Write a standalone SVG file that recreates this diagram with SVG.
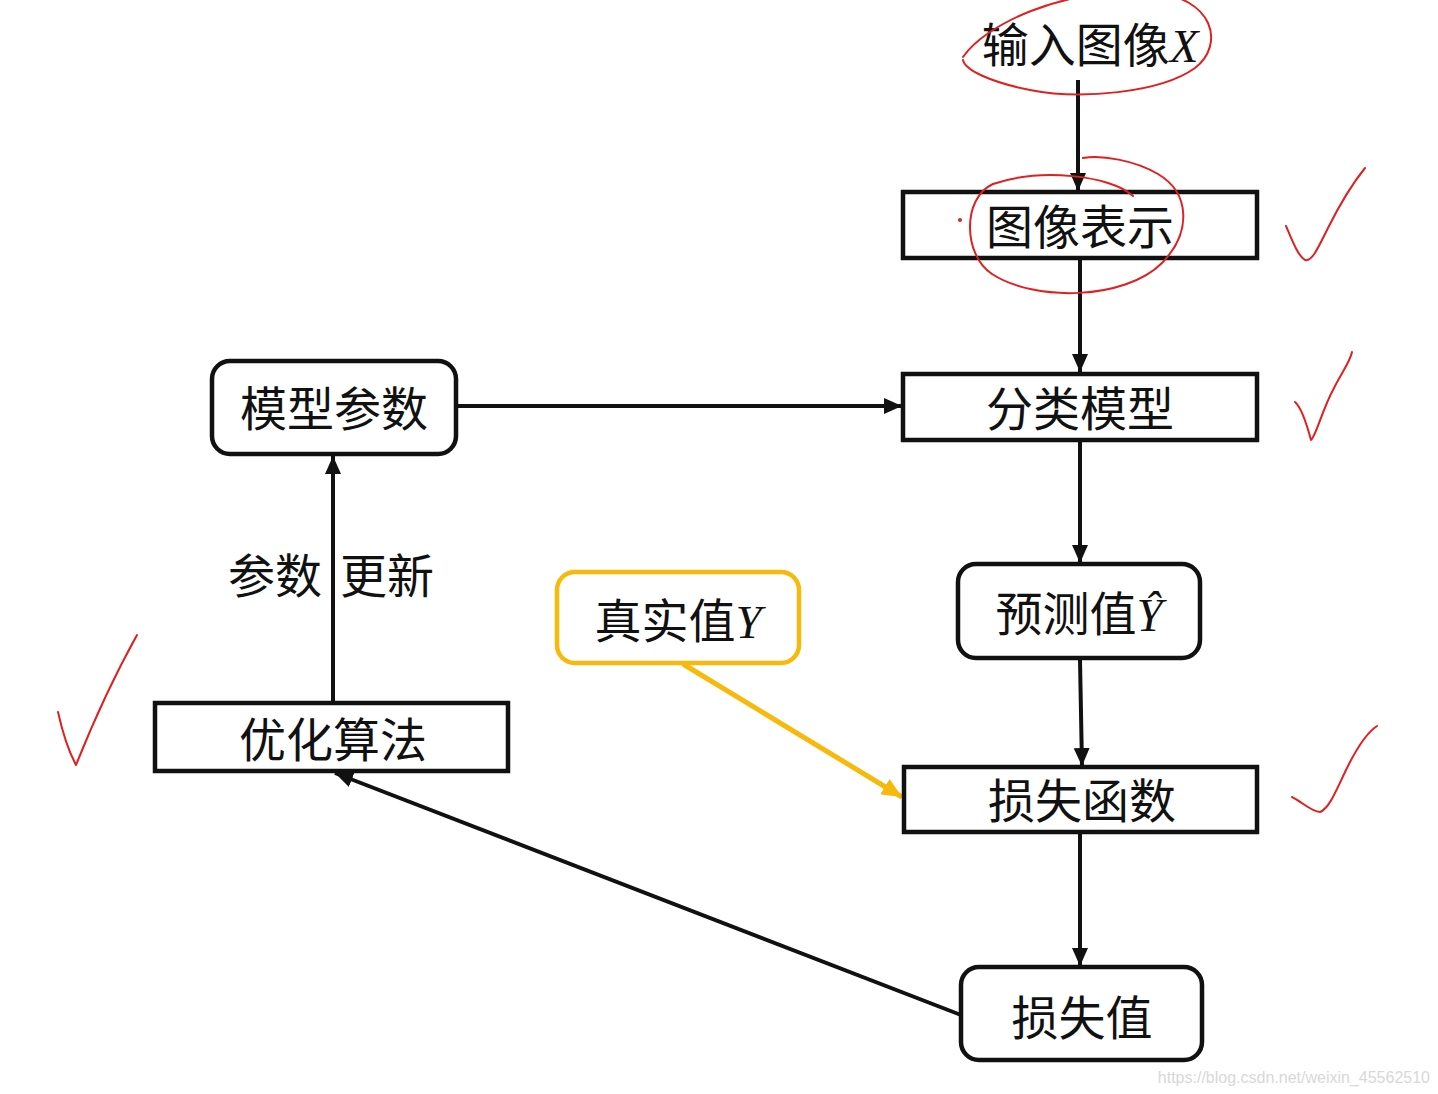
<svg xmlns="http://www.w3.org/2000/svg" width="1438" height="1094" viewBox="0 0 1438 1094">
<style>
.box{fill:#fff;stroke:#111;stroke-width:4.5}
.ybox{fill:#fff;stroke:#f6b90c;stroke-width:4.5}
.t{font-family:"Noto Sans CJK SC","Noto Sans",sans-serif;font-size:47px;fill:#111;text-anchor:middle}
.m{font-family:"Liberation Serif",serif;font-style:italic}
.c{fill:none;stroke:#111;stroke-width:4}
.y{fill:none;stroke:#f6b90c;stroke-width:5}
.r{fill:none;stroke:#e02020;stroke-width:2;stroke-linecap:round;stroke-linejoin:round}
</style>
<defs>
<marker id="ab" markerUnits="userSpaceOnUse" markerWidth="20" markerHeight="16" refX="18" refY="8" orient="auto">
<path d="M0,0 L18,8 L0,16 Z" fill="#111"/>
</marker>
<marker id="ay" markerUnits="userSpaceOnUse" markerWidth="22" markerHeight="18" refX="20" refY="9" orient="auto">
<path d="M0,0 L20,9 L0,18 Z" fill="#f6b90c"/>
</marker>
</defs>
<rect width="1438" height="1094" fill="#fff"/>
<g id="connectors">
<line class="c" x1="1078" y1="80" x2="1078" y2="191" marker-end="url(#ab)"/>
<line class="c" x1="1080" y1="260" x2="1080" y2="372" marker-end="url(#ab)"/>
<line class="c" x1="1080" y1="442" x2="1080" y2="563" marker-end="url(#ab)"/>
<line class="c" x1="1080" y1="660" x2="1082" y2="766" marker-end="url(#ab)"/>
<line class="c" x1="1080" y1="834" x2="1080" y2="966" marker-end="url(#ab)"/>
<line class="c" x1="458" y1="406" x2="902" y2="406" marker-end="url(#ab)"/>
<line class="c" x1="333" y1="702" x2="333" y2="456" marker-end="url(#ab)"/>
<line class="c" x1="961" y1="1015" x2="335" y2="773" marker-end="url(#ab)"/>
<line class="y" x1="683" y1="664" x2="902" y2="797" marker-end="url(#ay)"/>
</g>
<g id="input"><text class="t" x="1090" y="62">输入图像<tspan class="m">X</tspan></text></g>
<g id="image-repr"><rect class="box" x="903" y="192" width="354" height="66"/><text class="t" x="1080" y="244">图像表示</text></g>
<g id="classifier"><rect class="box" x="903" y="374" width="354" height="66"/><text class="t" x="1080" y="426">分类模型</text></g>
<g id="params"><rect class="box" x="212" y="361" width="244" height="93" rx="18"/><text class="t" x="334" y="426">模型参数</text></g>
<g id="update-label"><text class="t" x="275" y="593">参数</text><text class="t" x="387" y="593">更新</text></g>
<g id="truth"><rect class="ybox" x="557" y="572" width="242" height="91" rx="18"/><text class="t" x="678" y="638">真实值<tspan class="m">Y</tspan></text></g>
<g id="pred"><rect class="box" x="958" y="564" width="242" height="94" rx="18"/><text class="t" x="1079" y="631">预测值<tspan class="m">Ŷ</tspan></text></g>
<g id="optim"><rect class="box" x="155" y="703" width="353" height="68"/><text class="t" x="333" y="757">优化算法</text></g>
<g id="lossfn"><rect class="box" x="904" y="767" width="353" height="65"/><text class="t" x="1082" y="818">损失函数</text></g>
<g id="lossval"><rect class="box" x="961" y="967" width="241" height="93" rx="18"/><text class="t" x="1082" y="1035">损失值</text></g>
<g id="annotations">
<path class="r" d="M963,57 C985,25 1060,-12 1150,-8 C1215,-3 1225,45 1195,68 C1160,93 1080,100 1030,90 C990,82 965,70 963,60"/>
<path class="r" d="M1133,196 C1110,175 1040,168 993,184 C962,198 963,255 992,274 C1035,302 1125,300 1162,263 C1192,232 1190,193 1158,174 C1134,160 1102,155 1083,158"/>
<circle cx="960" cy="220" r="2" fill="#e02020"/>
<path class="r" d="M1286,226 C1292,240 1298,256 1305,260 C1312,262 1318,248 1328,228 C1342,200 1352,184 1365,168"/>
<path class="r" d="M1295,402 C1302,408 1307,425 1311,440 C1316,436 1322,410 1334,388 C1342,372 1350,362 1352,352"/>
<path class="r" d="M1292,797 C1302,802 1312,812 1320,812 C1330,808 1336,790 1348,766 C1358,746 1368,732 1377,726"/>
<path class="r" d="M58,712 C62,730 68,750 76,765 C90,730 112,680 137,635"/>
</g>
<g id="watermark"><text x="1430" y="1083" font-family="Liberation Sans,Arial,sans-serif" font-size="16" fill="#d8d8d8" text-anchor="end">https://blog.csdn.net/weixin_45562510</text></g>
</svg>
